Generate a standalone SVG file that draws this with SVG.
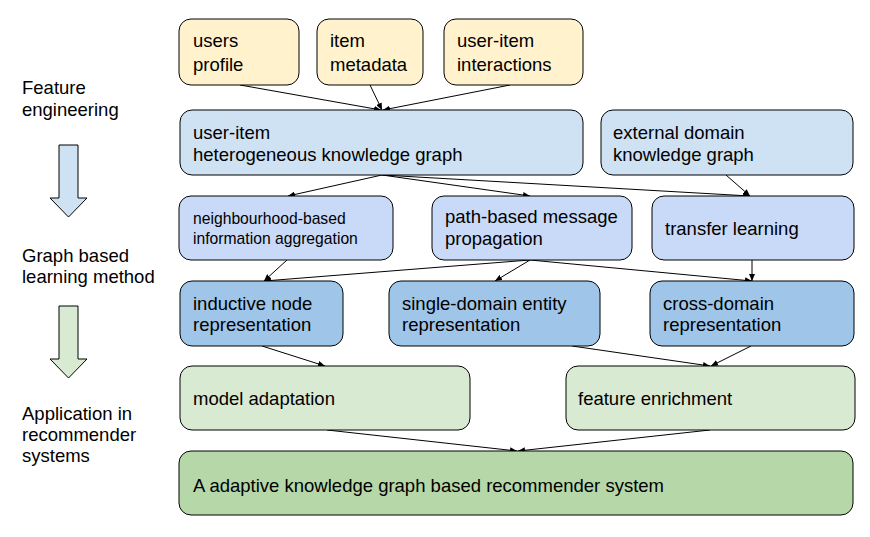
<svg xmlns="http://www.w3.org/2000/svg" width="870" height="537" viewBox="0 0 870 537">
<style>
text{font-family:"Liberation Sans",Arial,sans-serif;font-size:18.5px;fill:#000}
.sm{font-size:15.7px}
.box{stroke:#000;stroke-width:1}
.y{fill:#fff2cc}.b1{fill:#cfe2f3}.b2{fill:#c9daf8}.b3{fill:#9fc5e8}.g1{fill:#d9ead3}.g2{fill:#b6d7a8}
.c line{stroke:#000;stroke-width:1;marker-end:url(#ah)}
</style>
<defs>
<marker id="ah" markerUnits="userSpaceOnUse" markerWidth="8" markerHeight="6" refX="7" refY="3" orient="auto">
<path d="M0,0 L7,3 L0,6 z" fill="#000"/>
</marker>
</defs>
<rect width="870" height="537" fill="#fff"/>
<g id="stages">
<text x="22" y="94">Feature</text>
<text x="22" y="116">engineering</text>
<polygon class="box b1" points="59,145 78,145 78,198 87,198 68.5,217 50,198 59,198"/>
<text x="22" y="262">Graph based</text>
<text x="22" y="283">learning method</text>
<polygon class="box g1" points="59,306 78,306 78,359 87,359 68.5,378 50,359 59,359"/>
<text x="22" y="420">Application in</text>
<text x="22" y="441">recommender</text>
<text x="22" y="462">systems</text>
</g>
<g class="c" id="connectors">
<line x1="240" y1="85" x2="381" y2="110"/>
<line x1="370" y1="85" x2="382" y2="110"/>
<line x1="510" y1="85" x2="383" y2="110"/>
<line x1="382" y1="175" x2="288" y2="196"/>
<line x1="382" y1="175" x2="530" y2="196"/>
<line x1="382" y1="175" x2="750" y2="196"/>
<line x1="726" y1="175" x2="750" y2="196"/>
<line x1="287" y1="260" x2="264" y2="281"/>
<line x1="530" y1="260" x2="264" y2="281"/>
<line x1="530" y1="260" x2="495" y2="281"/>
<line x1="530" y1="260" x2="752" y2="281"/>
<line x1="752" y1="260" x2="752" y2="281"/>
<line x1="262" y1="346" x2="325" y2="366"/>
<line x1="572" y1="346" x2="710" y2="366"/>
<line x1="751" y1="346" x2="711" y2="366"/>
<line x1="327" y1="430" x2="517" y2="451"/>
<line x1="710" y1="430" x2="518" y2="451"/>
</g>
<g id="users-profile"><rect class="box y" x="179" y="19" width="120" height="66" rx="12"/><text x="193" y="47">users</text><text x="193" y="71">profile</text></g>
<g id="item-metadata"><rect class="box y" x="317" y="19" width="106" height="66" rx="12"/><text x="330" y="47">item</text><text x="330" y="71">metadata</text></g>
<g id="user-item-interactions"><rect class="box y" x="444" y="19" width="139" height="66" rx="12"/><text x="457" y="47">user-item</text><text x="457" y="71">interactions</text></g>
<g id="hkg"><rect class="box b1" x="180" y="110" width="403" height="65" rx="12"/><text x="193" y="139">user-item</text><text x="193" y="161">heterogeneous knowledge graph</text></g>
<g id="external"><rect class="box b1" x="601" y="110" width="252" height="65" rx="12"/><text x="613" y="139">external domain</text><text x="613" y="161">knowledge graph</text></g>
<g id="neighbourhood"><rect class="box b2" x="179" y="196" width="214" height="64" rx="12"/><text class="sm" x="193" y="224">neighbourhood-based</text><text class="sm" x="193" y="244">information aggregation</text></g>
<g id="path-based"><rect class="box b2" x="432" y="196" width="200" height="64" rx="12"/><text x="445" y="223">path-based message</text><text x="445" y="245">propagation</text></g>
<g id="transfer"><rect class="box b2" x="652" y="196" width="202" height="64" rx="12"/><text x="665" y="235">transfer learning</text></g>
<g id="inductive"><rect class="box b3" x="180" y="281" width="163" height="65" rx="12"/><text x="193" y="310">inductive node</text><text x="193" y="331">representation</text></g>
<g id="single-domain"><rect class="box b3" x="389" y="281" width="211" height="65" rx="12"/><text x="402" y="310">single-domain entity</text><text x="402" y="331">representation</text></g>
<g id="cross-domain"><rect class="box b3" x="650" y="281" width="204" height="65" rx="12"/><text x="663" y="310">cross-domain</text><text x="663" y="331">representation</text></g>
<g id="model-adaptation"><rect class="box g1" x="180" y="366" width="290" height="64" rx="12"/><text x="193" y="405">model adaptation</text></g>
<g id="feature-enrichment"><rect class="box g1" x="566" y="366" width="289" height="64" rx="12"/><text x="578" y="405">feature enrichment</text></g>
<g id="recommender"><rect class="box g2" x="179" y="451" width="674" height="64" rx="12"/><text x="193" y="492">A adaptive knowledge graph based recommender system</text></g>
</svg>
